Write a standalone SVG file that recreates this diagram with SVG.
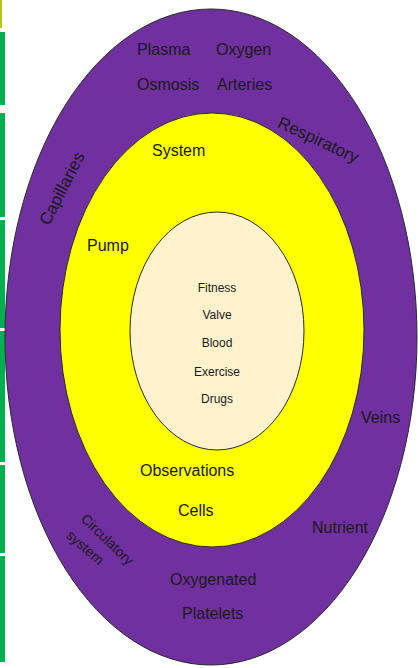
<svg xmlns="http://www.w3.org/2000/svg" width="418" height="668" viewBox="0 0 418 668">
<style>
.lbl{font-family:"Liberation Sans",Arial,sans-serif;font-size:16px;fill:#1a1a1a}
.sm{font-family:"Liberation Sans",Arial,sans-serif;font-size:12px;fill:#1a1a1a;text-anchor:middle}
.ring{stroke:#2b2b2b;stroke-width:1}
.bar{fill:#00B050}
</style>
<rect width="418" height="668" fill="#ffffff"/>
<g id="side-bars">
<rect x="0" y="0" width="2" height="28" fill="#B4C814"/>
<rect class="bar" x="0" y="32" width="5" height="73"/>
<rect class="bar" x="0" y="113" width="5" height="104"/>
<rect class="bar" x="0" y="220" width="5" height="108"/>
<rect class="bar" x="0" y="331" width="5" height="131"/>
<rect class="bar" x="0" y="465" width="5" height="88"/>
<rect class="bar" x="0" y="556" width="5" height="106"/>
</g>
<g id="outer-ring">
<ellipse class="ring" cx="211" cy="337" rx="206" ry="328" fill="#7030A0"/>
<text class="lbl" x="137" y="55">Plasma</text>
<text class="lbl" x="216" y="55">Oxygen</text>
<text class="lbl" x="137" y="90">Osmosis</text>
<text class="lbl" x="217" y="90">Arteries</text>
<text class="lbl" style="font-size:17px" text-anchor="middle" transform="translate(67,191) rotate(-63)">Capillaries</text>
<text class="lbl" style="font-size:17px" text-anchor="middle" transform="translate(316,145) rotate(25)">Respiratory</text>
<text class="lbl" x="361" y="423">Veins</text>
<text class="lbl" x="312" y="533">Nutrient</text>
<text class="lbl" style="font-size:14px" text-anchor="middle" transform="translate(104,543) rotate(44)">Circulatory</text>
<text class="lbl" style="font-size:14px" text-anchor="middle" transform="translate(82,551) rotate(41)">system</text>
<text class="lbl" x="170" y="585">Oxygenated</text>
<text class="lbl" x="182" y="619">Platelets</text>
</g>
<g id="middle-ring">
<ellipse class="ring" cx="212" cy="330" rx="152" ry="217" fill="#FFFF00"/>
<text class="lbl" x="152" y="156">System</text>
<text class="lbl" x="87" y="251">Pump</text>
<text class="lbl" x="140" y="476">Observations</text>
<text class="lbl" x="178" y="516">Cells</text>
</g>
<g id="inner-core">
<ellipse class="ring" cx="217" cy="331" rx="87" ry="119" fill="#FFF2CC"/>
<text class="sm" x="217" y="292">Fitness</text>
<text class="sm" x="217" y="319">Valve</text>
<text class="sm" x="217" y="347">Blood</text>
<text class="sm" x="217" y="376">Exercise</text>
<text class="sm" x="217" y="403">Drugs</text>
</g>
<g id="connectors"></g>
</svg>
